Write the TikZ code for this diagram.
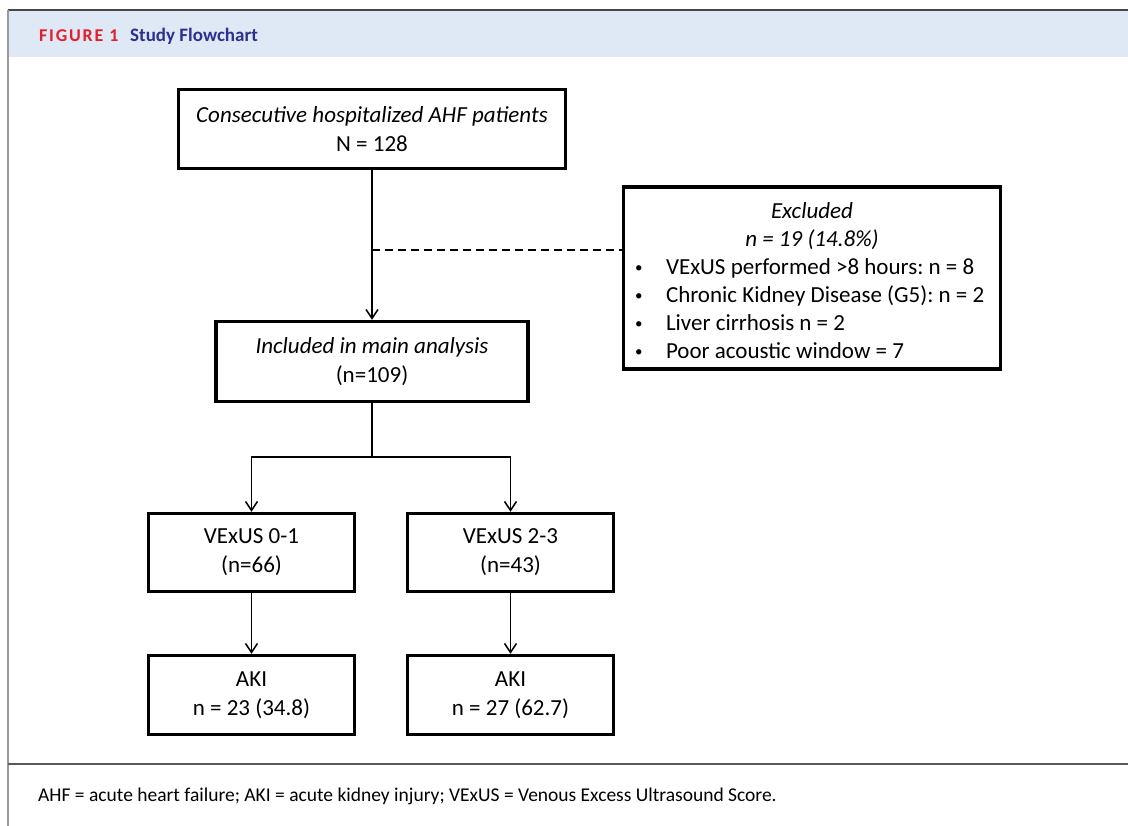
\documentclass[tikz,border=0pt]{standalone}
\usepackage{fontspec}
\setmainfont{Carlito}
\usetikzlibrary{arrows.meta}
\definecolor{hdrband}{HTML}{DEE9F5}
\definecolor{figred}{HTML}{E31E2D}
\definecolor{fignavy}{HTML}{2E3091}
\newcommand{\smallbul}{\makebox[34pt][l]{\hspace{3pt}\raisebox{2.5pt}{\fontsize{15}{15}\selectfont •}}}
\begin{document}
\frenchspacing
\begin{tikzpicture}[x=1pt,y=-1pt,
  flowbox/.style={draw=black, line width=3.4pt, inner sep=0pt, align=center,
    font=\fontsize{23}{29}\selectfont},
  conn/.style={line width=1.5pt, -{Straight Barb[length=9pt,width=12pt,line width=1.5pt]}},
  plain/.style={line width=1.5pt},
  dashconn/.style={line width=1.5pt, dash pattern=on 8pt off 5pt}]
\useasboundingbox (0,0) rectangle (1128,826);
\fill[white] (0,0) rectangle (1128,826);
% header and frame
\fill[hdrband] (8,10) rectangle (1128,57);
\draw[color=black!72, line width=1.5pt] (8,10) -- (1128,10);
\draw[color=black!40, line width=2pt] (8,10) -- (8,826);
\draw[color=black!65, line width=1.2pt] (8,764) -- (1128,764);
\node[anchor=base west, inner sep=0, text=figred,
  font=\fontsize{18}{20}\selectfont\bfseries\addfontfeature{LetterSpace=10}] (figlabel) at (39,42) {FIGURE 1};
\node[anchor=base west, inner sep=0, text=fignavy,
  font=\fontsize{19}{22}\selectfont\bfseries] (figtitle) at (130,42) {Study Flowchart};
% boxes
\node[flowbox, minimum width=387pt, minimum height=79pt] (top) at (372,129)
  {\itshape Consecutive hospitalized AHF patients\\N = 128};
\node[flowbox, minimum width=377pt, minimum height=182pt] (excl) at (812,278)
  {\begin{minipage}{360pt}\fontsize{23}{28}\selectfont
   \vspace*{6pt}\centering\itshape Excluded\\ n = 19 (14.8\%)\par
   \raggedright\upshape
   \smallbul VExUS performed >8 hours: n = 8\\
   \smallbul Chronic Kidney Disease (G5): n = 2\\
   \smallbul Liver cirrhosis n = 2\\
   \smallbul Poor acoustic window = 7\end{minipage}};
\node[flowbox, minimum width=312pt, minimum height=80pt] (incl) at (372,361.5)
  {\itshape Included in main analysis\\\upshape(n=109)};
\node[flowbox, minimum width=206pt, minimum height=78pt] (v01) at (251.5,552.5)
  {VExUS 0-1\\(n=66)};
\node[flowbox, minimum width=206pt, minimum height=78pt] (v23) at (510.5,552.5)
  {VExUS 2-3\\(n=43)};
\node[flowbox, minimum width=206pt, minimum height=79pt] (aki1) at (251.5,695)
  {AKI\\n = 23 (34.8)};
\node[flowbox, minimum width=206pt, minimum height=79pt] (aki2) at (510.5,695)
  {AKI\\n = 27 (62.7)};
% connectors
\coordinate (dj) at (372,250);
\coordinate (split) at (372,457);
\draw[conn] (top) -- (incl);
\draw[dashconn] (dj) -- (dj -| excl.west);
\draw[plain] (incl) -- (split);
\draw[conn] (split) -| (v01);
\draw[conn] (split) -| (v23);
\draw[conn] (v01) -- (aki1);
\draw[conn] (v23) -- (aki2);
% caption
\node[anchor=base west, inner sep=0, font=\fontsize{19.5}{22}\selectfont] (caption) at (38,801)
  {AHF = acute heart failure; AKI = acute kidney injury; VExUS = Venous Excess Ultrasound Score.};
\end{tikzpicture}
\end{document}
